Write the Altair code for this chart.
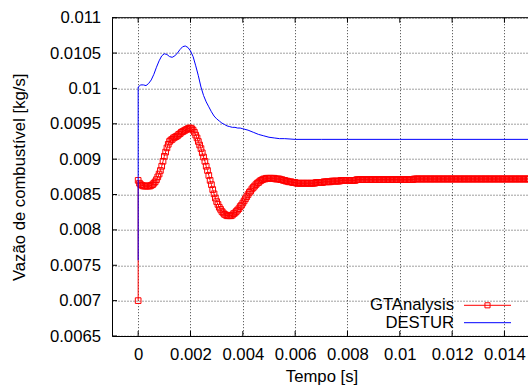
import altair as alt
import pandas as pd

FONT = "Liberation Sans"
FS = 16.7

SERIES = ["GTAnalysis", "DESTUR"]
COLORS = ["#ff0000", "#0000ff"]

X_TICKS = [0, 0.002, 0.004, 0.006, 0.008, 0.01, 0.012, 0.014]
Y_TICKS = [0.0065, 0.007, 0.0075, 0.008, 0.0085, 0.009, 0.0095, 0.01, 0.0105, 0.011]

# GTAnalysis: two samples at t = 0, then one sample every DT seconds
DT = 0.00005
gt_start = [0.0070, 0.0087]
gt_values = [
    # 0.00005 .. 0.0005
    0.00866, 0.00864, 0.00863, 0.00862, 0.00862, 0.00862, 0.00862, 0.00862, 0.00862, 0.00863,
    # 0.00055 .. 0.0010
    0.00864, 0.00866, 0.00868, 0.00871, 0.00875, 0.00879, 0.00884, 0.00890, 0.00897, 0.00904,
    # 0.00105 .. 0.0015
    0.00910, 0.00916, 0.00921, 0.00925, 0.00927, 0.00928, 0.00930, 0.00931, 0.00932, 0.00933,
    # 0.00155 .. 0.0020
    0.00935, 0.00936, 0.00938, 0.00939, 0.00940, 0.00941, 0.00942, 0.00943, 0.00944, 0.00944,
    # 0.00205 .. 0.0025
    0.00943, 0.00941, 0.00938, 0.00934, 0.00930, 0.00925, 0.00920, 0.00915, 0.00909, 0.00903,
    # 0.00255 .. 0.0030
    0.00897, 0.00890, 0.00884, 0.00877, 0.00870, 0.00864, 0.00857, 0.00851, 0.00845, 0.00840,
    # 0.00305 .. 0.0035
    0.00836, 0.00832, 0.00829, 0.00826, 0.00824, 0.00822, 0.00821, 0.00820, 0.00820, 0.00820,
    # 0.00355 .. 0.0040
    0.00820, 0.00821, 0.00823, 0.00824, 0.00826, 0.00828, 0.00830, 0.00833, 0.00835, 0.00838,
    # 0.00405 .. 0.0045
    0.00841, 0.00844, 0.00847, 0.00850, 0.00853, 0.00855, 0.00858, 0.00860, 0.00862, 0.00864,
    # 0.00455 .. 0.0050
    0.00866, 0.00867, 0.00869, 0.00870, 0.00871, 0.00872, 0.00872, 0.00873, 0.00873, 0.00873,
    # 0.00505 .. 0.0055
    0.00873, 0.00873, 0.00873, 0.00873, 0.00872, 0.00872, 0.00872, 0.00872, 0.00871, 0.00871,
    # 0.00555 .. 0.0060
    0.00870, 0.00870, 0.00869, 0.00869, 0.00868, 0.00868, 0.00868, 0.00867, 0.00867, 0.00867,
    # 0.00605 .. 0.0065
    0.00866, 0.00866, 0.00866, 0.00866, 0.00866, 0.00866, 0.00866, 0.00866, 0.00866, 0.00866,
    # 0.00655 .. 0.0070
    0.00866, 0.00866, 0.00866, 0.00866, 0.00866, 0.00867, 0.00867, 0.00867, 0.00867, 0.00867,
    # 0.00705 .. 0.0075
    0.00867, 0.00868, 0.00868, 0.00868, 0.00868, 0.00868, 0.00868, 0.00869, 0.00869, 0.00869,
    # 0.00755 .. 0.0080
    0.00869, 0.00869, 0.00869, 0.00869, 0.00870, 0.00870, 0.00870, 0.00870, 0.00870, 0.00870,
    # 0.00805 .. 0.0085
    0.00870, 0.00870, 0.00870, 0.00870, 0.00870, 0.00870, 0.00871, 0.00871, 0.00871, 0.00871,
    # 0.00855 .. 0.0090
    0.00871, 0.00871, 0.00871, 0.00871, 0.00871, 0.00871, 0.00871, 0.00871, 0.00871, 0.00871,
    # 0.00905 .. 0.0095
    0.00871, 0.00871, 0.00871, 0.00871, 0.00871, 0.00871, 0.00871, 0.00871, 0.00871, 0.00871,
    # 0.00955 .. 0.0100
    0.00871, 0.00871, 0.00871, 0.00871, 0.00871, 0.00871, 0.00871, 0.00871, 0.00871, 0.00871,
    # 0.01005 .. 0.0105
    0.00871, 0.00871, 0.00871, 0.00871, 0.00871, 0.00871, 0.00871, 0.00871, 0.00871, 0.00871,
    # 0.01055 .. 0.0110
    0.00872, 0.00872, 0.00872, 0.00872, 0.00872, 0.00872, 0.00872, 0.00872, 0.00872, 0.00872,
    # 0.01105 .. 0.0115
    0.00872, 0.00872, 0.00872, 0.00872, 0.00872, 0.00872, 0.00872, 0.00872, 0.00872, 0.00872,
    # 0.01155 .. 0.0120
    0.00872, 0.00872, 0.00872, 0.00872, 0.00872, 0.00872, 0.00872, 0.00872, 0.00872, 0.00872,
    # 0.01205 .. 0.0125
    0.00872, 0.00872, 0.00872, 0.00872, 0.00872, 0.00872, 0.00872, 0.00872, 0.00872, 0.00872,
    # 0.01255 .. 0.0130
    0.00872, 0.00872, 0.00872, 0.00872, 0.00872, 0.00872, 0.00872, 0.00872, 0.00872, 0.00872,
    # 0.01305 .. 0.0135
    0.00872, 0.00872, 0.00872, 0.00872, 0.00872, 0.00872, 0.00872, 0.00872, 0.00872, 0.00872,
    # 0.01355 .. 0.0140
    0.00872, 0.00872, 0.00872, 0.00872, 0.00872, 0.00872, 0.00872, 0.00872, 0.00872, 0.00872,
    # 0.01405 .. 0.0145
    0.00872, 0.00872, 0.00872, 0.00872, 0.00872, 0.00872, 0.00872, 0.00872, 0.00872, 0.00872,
    # 0.01455 .. 0.0149
    0.00872, 0.00872, 0.00872, 0.00872, 0.00872, 0.00872, 0.00872, 0.00872, 0.00872,
]

destur_time = [
    0.0, 0.0,
    0.0001, 0.0002, 0.0003, 0.0004, 0.0005, 0.0006, 0.0007, 0.0008, 0.0009, 0.0010,
    0.0011, 0.0012, 0.0013, 0.0014, 0.0015, 0.0016, 0.0017, 0.0018, 0.0019, 0.0020,
    0.0021, 0.0022, 0.0023, 0.0024, 0.0025, 0.0026, 0.0027, 0.0028, 0.0029, 0.0030,
    0.0031, 0.0032, 0.0033, 0.0034, 0.0035, 0.0036, 0.0037, 0.0038, 0.0039, 0.0040,
    0.0042, 0.0044, 0.0046, 0.0048, 0.0050, 0.0052, 0.0054, 0.0056,
    0.006, 0.007, 0.008, 0.010, 0.012, 0.015,
]
destur_values = [
    0.00757, 0.01002,
    0.01005, 0.01005, 0.01004, 0.01007, 0.01012, 0.01020, 0.01030, 0.01039, 0.01046, 0.01049,
    0.01048, 0.01045, 0.01044, 0.01046, 0.01050, 0.01055, 0.01059, 0.01060, 0.01058, 0.01053,
    0.01045, 0.01032, 0.01018, 0.01002, 0.00990, 0.00981, 0.00974, 0.00967, 0.00961, 0.00957,
    0.00954, 0.00951, 0.00949, 0.00947, 0.00946, 0.00945, 0.00945, 0.00944, 0.00944, 0.00943,
    0.00941, 0.00938, 0.00935, 0.00933, 0.00931, 0.00930, 0.00929, 0.00929,
    0.00928, 0.00928, 0.00928, 0.00928, 0.00928, 0.00928,
]

gt_time = [0.0, 0.0] + [round(k * DT, 6) for k in range(1, len(gt_values) + 1)]
gt_all = gt_start + gt_values

gt_df = pd.DataFrame({"t": gt_time, "v": gt_all, "i": range(len(gt_all))})
destur_df = pd.DataFrame({"t": destur_time, "v": destur_values, "i": range(len(destur_values))})

W, H = 416, 318.3
X_DOMAIN = [-0.001, 0.0149]
Y_DOMAIN = [0.0065, 0.011]

x_scale = alt.Scale(domain=X_DOMAIN, nice=False, zero=False)
y_scale = alt.Scale(domain=Y_DOMAIN, nice=False, zero=False)

GRID = dict(grid=True, gridDash=[1, 2], gridColor="#000", gridOpacity=0.75, ticks=False,
            domain=True, domainColor="#000", labelOverlap=False,
            labelFont=FONT, labelFontSize=FS, labelColor="#000",
            titleFont=FONT, titleFontSize=FS, titleFontWeight="normal", titleColor="#000")

x_axis = alt.Axis(
    values=X_TICKS, labelExpr="'' + datum.value", title="Tempo [s]",
    labelPadding=10, titleX=209.5, titleY=40, titleAlign="center", titleBaseline="middle",
    **GRID,
)
y_axis = alt.Axis(
    values=Y_TICKS, labelExpr="'' + datum.value", title="Vazão de combustível [kg/s]",
    labelPadding=11.5, titleX=-92.5, titleY=H / 2, titleAlign="center",
    titleBaseline="middle", titleAngle=270,
    **GRID,
)

# every layer shares the same positional channels (and therefore one axis each)
x_enc = alt.X("t:Q", scale=x_scale, axis=x_axis)
y_enc = alt.Y("v:Q", scale=y_scale, axis=y_axis)

gt_line = alt.Chart(gt_df).mark_line(
    color=COLORS[0], strokeWidth=1, clip=True,
    point=alt.OverlayMarkDef(shape="square", filled=False, size=32, strokeWidth=1, color=COLORS[0]),
).encode(x=x_enc, y=y_enc, order="i:Q")

destur_line = alt.Chart(destur_df).mark_line(
    color=COLORS[1], strokeWidth=1, clip=True
).encode(x=x_enc, y=y_enc, order="i:Q")

# inward tick marks on the frame
xt_df = pd.DataFrame({"t": X_TICKS})
yt_df = pd.DataFrame({"v": Y_TICKS})
tick_bottom = alt.Chart(xt_df).mark_rule(color="#000", strokeWidth=1).encode(
    x=x_enc, y=alt.value(H), y2=alt.value(H - 5))
tick_top = alt.Chart(xt_df).mark_rule(color="#000", strokeWidth=1).encode(
    x=x_enc, y=alt.value(0), y2=alt.value(5))
tick_left = alt.Chart(yt_df).mark_rule(color="#000", strokeWidth=1).encode(
    y=y_enc, x=alt.value(0), x2=alt.value(5))
top_border = alt.Chart().mark_rule(color="#000", strokeWidth=1).encode(
    x=alt.value(0), x2=alt.value(W), y=alt.value(0))

# key in the lower right corner
LEG_TEXT_X, LEG_LINE_X1, LEG_LINE_X2 = 342, 352, 399
LEG_Y = [287.6, 305.0]
legend_layers = []
for name, color, ly in zip(SERIES, COLORS, LEG_Y):
    legend_layers.append(
        alt.Chart().mark_text(align="right", baseline="middle", font=FONT, fontSize=FS, color="#000")
        .encode(x=alt.value(LEG_TEXT_X), y=alt.value(ly), text=alt.value(name))
    )
    legend_layers.append(
        alt.Chart().mark_rule(color=color, strokeWidth=1)
        .encode(x=alt.value(LEG_LINE_X1), x2=alt.value(LEG_LINE_X2), y=alt.value(ly))
    )
legend_layers.append(
    alt.Chart().mark_point(shape="square", filled=False, size=26, strokeWidth=1, color=COLORS[0], opacity=1)
    .encode(x=alt.value((LEG_LINE_X1 + LEG_LINE_X2) / 2), y=alt.value(LEG_Y[0]))
)

chart = alt.layer(
    gt_line, destur_line, tick_bottom, tick_top, tick_left, top_border, *legend_layers
).properties(
    width=W, height=H,
    autosize=alt.AutoSizeParams(type="none"),
    padding={"left": 112, "top": 17.7, "right": 0, "bottom": 56},
    background="white",
).configure_view(stroke=None)

chart.save("out.html", embed_options={"renderer": "svg", "actions": False})
